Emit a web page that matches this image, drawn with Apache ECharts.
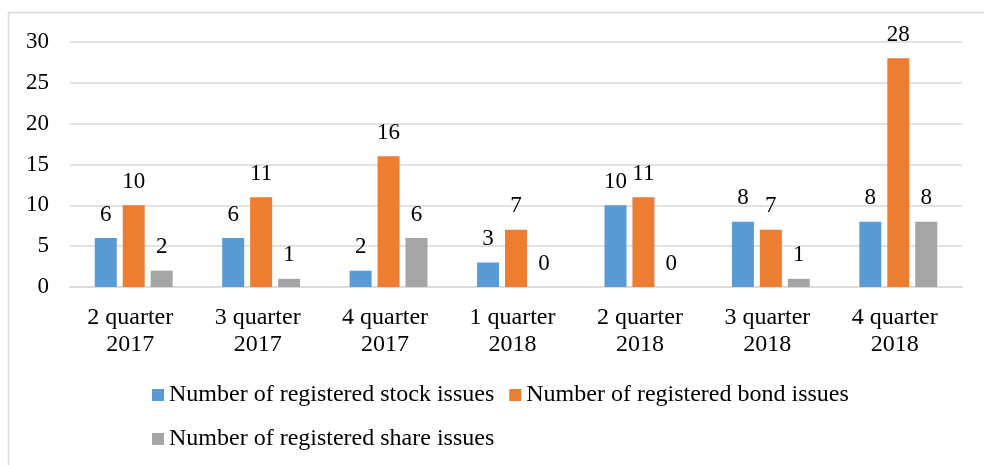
<!DOCTYPE html>
<html><head><meta charset="utf-8">
<script src="https://cdn.jsdelivr.net/npm/echarts@6/dist/echarts.min.js"></script>
<style>html,body{margin:0;padding:0;background:#fff}#c{width:984px;height:465px}</style>
</head><body><div id="c"></div>
<script>
const categories = ['2 quarter\n2017','3 quarter\n2017','4 quarter\n2017','1 quarter\n2018','2 quarter\n2018','3 quarter\n2018','4 quarter\n2018'];
const stockIssues = [6,6,2,3,10,8,8];
const bondIssues = [10,11,16,7,11,7,28];
const shareIssues = [2,1,6,0,0,1,8];
const seriesNames = ['Number of registered stock issues','Number of registered bond issues','Number of registered share issues'];
const yTicks = {min:0,max:30,interval:5};

const font = '"Liberation Serif","Times New Roman",serif';
const chart = echarts.init(document.getElementById('c'));
const lbl = {show:true,position:'top',distance:12,color:'#000',fontFamily:font,fontSize:23};
function mk(name,data,color){
  return {name,type:'bar',data,barWidth:22,barGap:'27%',itemStyle:{color},label:lbl,emphasis:{disabled:true}};
}
chart.setOption({
  animation:false,
  graphic:[{type:'rect',shape:{x:8.5,y:12.5,width:1000,height:500},style:{fill:'none',stroke:'#d9d9d9',lineWidth:1.5},silent:true}],
  grid:{left:70,right:22,top:42,bottom:178,containLabel:false},
  legend:{left:147,top:375.5,width:720,itemWidth:12,itemHeight:12,itemGap:15,icon:'rect',
    textStyle:{fontFamily:font,fontSize:24,lineHeight:29,color:'#000'},
    data:seriesNames},
  xAxis:{type:'category',data:categories,
    axisLine:{lineStyle:{color:'#d9d9d9',width:1.5}},axisTick:{show:false},
    axisLabel:{fontFamily:font,fontSize:24,color:'#000',lineHeight:27,margin:17,padding:[0,7,0,0]}},
  yAxis:{type:'value',min:yTicks.min,max:yTicks.max,interval:yTicks.interval,
    axisLine:{show:false},axisTick:{show:false},
    splitLine:{lineStyle:{color:'#d9d9d9',width:1.5}},
    axisLabel:{fontFamily:font,fontSize:23,color:'#000',margin:21}},
  series:[mk(seriesNames[0],stockIssues,'#5B9BD5'),mk(seriesNames[1],bondIssues,'#ED7D31'),mk(seriesNames[2],shareIssues,'#A5A5A5')]
});
</script></body></html>
